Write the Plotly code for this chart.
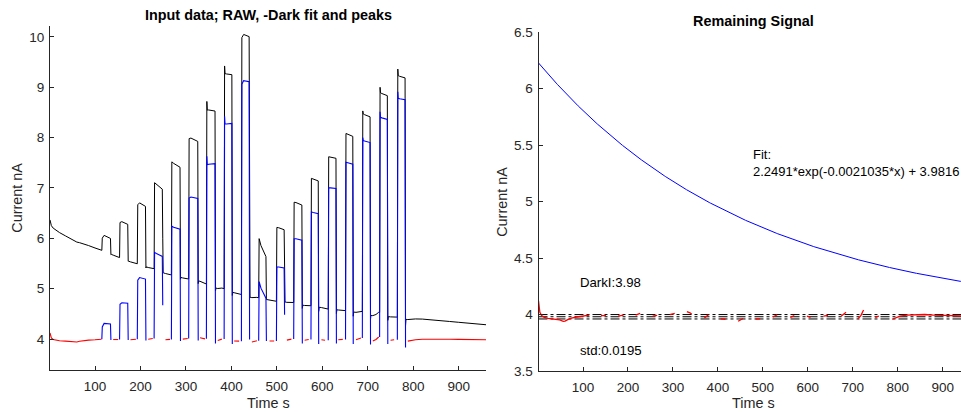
import numpy as np
import plotly.graph_objects as go

# Dark-current fit of the raw trace: raw = corrected + FIT_AMP * exp(-FIT_RATE * t)
FIT_AMP = 2.2491
FIT_RATE = 0.0021035
FIT_OFFSET = 3.9816
DARK_MEAN = 3.98
DARK_STD = 0.0195
T_START = 1
T_END = 960

# Light pulses: first and last plateau sample (s)
pulse_on = [116, 155, 194, 231, 269, 307, 346, 385, 423, 461, 500, 538, 576, 614, 652, 689, 727, 766]
pulse_off = [134, 172, 211, 248, 287, 326, 364, 401, 439, 476, 516, 555, 591, 630, 667, 705, 743, 782]
# Dark-corrected plateau levels (nA)
pulse_spike = [None, None, None, None, None, None, 7.63, 8.42, None, None,
               None, None, None, None, None, 8.00, 8.51, 8.91]
pulse_start = [4.24, 4.69, 5.17, 5.72, 6.24, 6.80, 7.46, 8.27, 9.06, 5.14,
               5.43, 5.99, 6.52, 7.00, 7.51, 7.94, 8.40, 8.78]
pulse_settle = [4.31, 4.72, 5.22, 5.70, 6.22, 6.82, 7.47, 8.27, 9.13, 5.01,
                5.43, 5.99, 6.51, 7.00, 7.50, 7.93, 8.39, 8.77]
pulse_end = [4.30, 4.71, 5.19, 5.64, 6.18, 6.79, 7.48, 8.28, 9.11, 4.81,
             5.41, 5.96, 6.49, 6.99, 7.47, 7.90, 8.36, 8.75]
pulse_dip = [3.98, 3.98, 3.97, 4.67, 3.96, 3.97, 3.91, 3.90, 3.99, 3.96,
             4.48, 3.91, 3.90, 3.91, 3.90, 3.89, 3.90, 3.83]

# Dark samples between pulses (dark-corrected, nA)
dark_t = [
    [1, 2, 4, 8, 14, 22, 35, 48, 56, 60, 66, 74, 86, 100, 108, 114],
    [140, 151],
    [178, 190],
    [217, 227],
    [255, 265],
    [293, 304],
    [331, 335, 338, 342],
    [370, 379],
    [406, 417],
    [445, 450, 456],
    [484, 494],
    [522, 532],
    [561, 570],
    [598, 606],
    [635, 645],
    [674, 685],
    [711, 718, 724],
    [750, 758],
    [788, 795, 805, 820, 840, 860, 880, 900, 920, 940, 960],
]
dark_v = [
    [4.12, 4.07, 4.02, 3.99, 3.975, 3.965, 3.958, 3.952, 3.940, 3.942, 3.955, 3.968, 3.978, 3.985, 3.990, 3.995],
    [3.990, 3.990],
    [3.985, 3.995],
    [3.995, 4.010],
    [3.985, 3.992],
    [3.998, 4.010],
    [4.025, 4.020, 4.015, 4.003],
    [3.970, 3.998],
    [3.962, 3.958],
    [3.940, 3.955, 3.965],
    [3.960, 3.962],
    [3.978, 3.998],
    [3.975, 3.990],
    [3.985, 3.975],
    [3.985, 3.992],
    [3.985, 4.020],
    [3.960, 3.990, 4.040],
    [3.975, 3.985],
    [3.958, 3.970, 3.985, 3.995, 4.000, 4.000, 3.995, 3.993, 3.990, 3.988, 3.985],
]

x_ticks = [100, 200, 300, 400, 500, 600, 700, 800, 900]
left_y_ticks = [4, 5, 6, 7, 8, 9, 10]
right_y_ticks = [3.5, 4, 4.5, 5, 5.5, 6, 6.5]


def fit_drift(t):
    return FIT_AMP * np.exp(-FIT_RATE * np.asarray(t, dtype=float))


def pulse_vertices(i, base):
    on, off = pulse_on[i], pulse_off[i]
    t, v = [on - 1], [base]
    if pulse_spike[i] is not None:
        t += [on, on + 1]
        v += [pulse_spike[i], pulse_start[i]]
    else:
        t += [on]
        v += [pulse_start[i]]
    t += [on + 4, off, off + 1]
    v += [pulse_settle[i], pulse_end[i], pulse_dip[i]]
    return t, v


# Assemble the corrected trace pieces
raw_t, raw_c = [], []
peak_t, peak_v = [], []
dark_line_t, dark_line_v = [], []
n_pulses = len(pulse_on)
for g in range(len(dark_t)):
    dark_line_t += dark_t[g] + [None]
    dark_line_v += dark_v[g] + [None]
    if g > 0:
        raw_t.append(pulse_off[g - 1] + 2)
        raw_c.append(dark_v[g][0])
    raw_t += dark_t[g]
    raw_c += dark_v[g]
    if g < n_pulses:
        pt, pv = pulse_vertices(g, dark_v[g][-1])
        peak_t += pt + [None]
        peak_v += pv + [None]
        raw_t += pt
        raw_c += pv

raw_v = np.asarray(raw_c) + fit_drift(raw_t)

fit_t = np.arange(T_START, T_END + 1)
fit_v = fit_drift(fit_t) + FIT_OFFSET

W, H = 961, 412
FONT = "Liberation Sans, Arial, Helvetica, sans-serif"
AX_COLOR = "#262626"

fig = go.Figure()

# Left panel: raw, dark-corrected peaks, dark samples
fig.add_trace(go.Scatter(x=raw_t, y=raw_v, mode="lines",
                         line=dict(color="black", width=1), xaxis="x", yaxis="y"))
fig.add_trace(go.Scatter(x=peak_t, y=peak_v, mode="lines",
                         line=dict(color="#0000ff", width=1.1), xaxis="x", yaxis="y"))
fig.add_trace(go.Scatter(x=dark_line_t, y=dark_line_v, mode="lines",
                         line=dict(color="#ff0000", width=1.1), xaxis="x", yaxis="y"))

# Right panel: fit curve, dark mean +/- std, dark samples
fig.add_trace(go.Scatter(x=fit_t, y=fit_v, mode="lines",
                         line=dict(color="#0000ff", width=1), xaxis="x2", yaxis="y2"))
for lvl in [DARK_MEAN + DARK_STD, DARK_MEAN, DARK_MEAN - DARK_STD]:
    fig.add_trace(go.Scatter(x=[T_START, T_END], y=[lvl, lvl], mode="lines",
                             line=dict(color="black", width=1, dash="dashdot"),
                             xaxis="x2", yaxis="y2"))
fig.add_trace(go.Scatter(x=dark_line_t, y=dark_line_v, mode="lines",
                         line=dict(color="#ff0000", width=1.3), xaxis="x2", yaxis="y2"))

axis_common = dict(showline=True, linecolor=AX_COLOR, linewidth=1, ticks="inside",
                   ticklen=4, tickcolor=AX_COLOR, showgrid=False, zeroline=False,
                   mirror=False, automargin=False,
                   tickfont=dict(family=FONT, size=13.5, color=AX_COLOR))

L_X0, L_X1 = 50, 486
R_X0 = 538.5
L_YT, L_YB = 25.7, 370
R_YT, R_YB = 32, 371
px_per_s_right = 0.4496
right_xmax = T_START + (W - R_X0) / px_per_s_right

fig.update_layout(
    width=W, height=H,
    margin=dict(l=0, r=0, t=0, b=0, pad=0, autoexpand=False),
    paper_bgcolor="white", plot_bgcolor="white",
    showlegend=False,
    xaxis=dict(domain=[L_X0 / W, L_X1 / W], range=[T_START, T_END],
               tickvals=x_ticks, anchor="y", ticklabelstandoff=4, **axis_common),
    yaxis=dict(domain=[1 - L_YB / H, 1 - L_YT / H], range=[3.385, 10.22],
               tickvals=left_y_ticks, anchor="x", ticklabelstandoff=2, **axis_common),
    xaxis2=dict(domain=[R_X0 / W, 1.0], range=[T_START, right_xmax],
                tickvals=x_ticks, anchor="y2", ticklabelstandoff=4, **axis_common),
    yaxis2=dict(domain=[1 - R_YB / H, 1 - R_YT / H], range=[3.5, 6.5],
                tickvals=right_y_ticks, anchor="x2", ticklabelstandoff=2, **axis_common),
)


def paper_text(txt, px, py, size, bold=False, angle=0, color=AX_COLOR):
    return dict(text=f"<b>{txt}</b>" if bold else txt, x=px / W, y=1 - py / H,
                xref="paper", yref="paper", xanchor="center", yanchor="middle",
                showarrow=False, textangle=angle,
                font=dict(family=FONT, size=size, color=color))


annotations = [
    paper_text("Input data; RAW, -Dark fit and peaks", 268.3, 15, 14.4, bold=True, color="black"),
    paper_text("Remaining Signal", 753.7, 20.7, 14.4, bold=True, color="black"),
    paper_text("Time s", 268, 403, 14.4),
    paper_text("Time s", 753, 403, 14.4),
    paper_text("Current nA", 16.7, 198, 14.4, angle=-90),
    paper_text("Current nA", 501.3, 201.5, 14.4, angle=-90),
    dict(text=f"DarkI:{DARK_MEAN:.2f}", x=T_END / 10, y=DARK_MEAN + 0.3, xref="x2", yref="y2",
         xanchor="left", yanchor="middle", showarrow=False, borderpad=0, xshift=-2,
         font=dict(family=FONT, size=13.2, color="black")),
    dict(text=f"std:{DARK_STD}", x=T_END / 10, y=DARK_MEAN - 0.3, xref="x2", yref="y2",
         xanchor="left", yanchor="middle", showarrow=False, borderpad=0, xshift=-2,
         font=dict(family=FONT, size=13.2, color="black")),
    dict(text=f"Fit:<br>{FIT_AMP}*exp(-{FIT_RATE}*x) + {FIT_OFFSET}", x=T_END / 2, y=5.34,
         xref="x2", yref="y2", xanchor="left", yanchor="middle", align="left",
         showarrow=False, borderpad=0, xshift=-2,
         font=dict(family=FONT, size=13.0, color="black")),
]
fig.update_layout(annotations=annotations)

fig.write_html("out.html")
